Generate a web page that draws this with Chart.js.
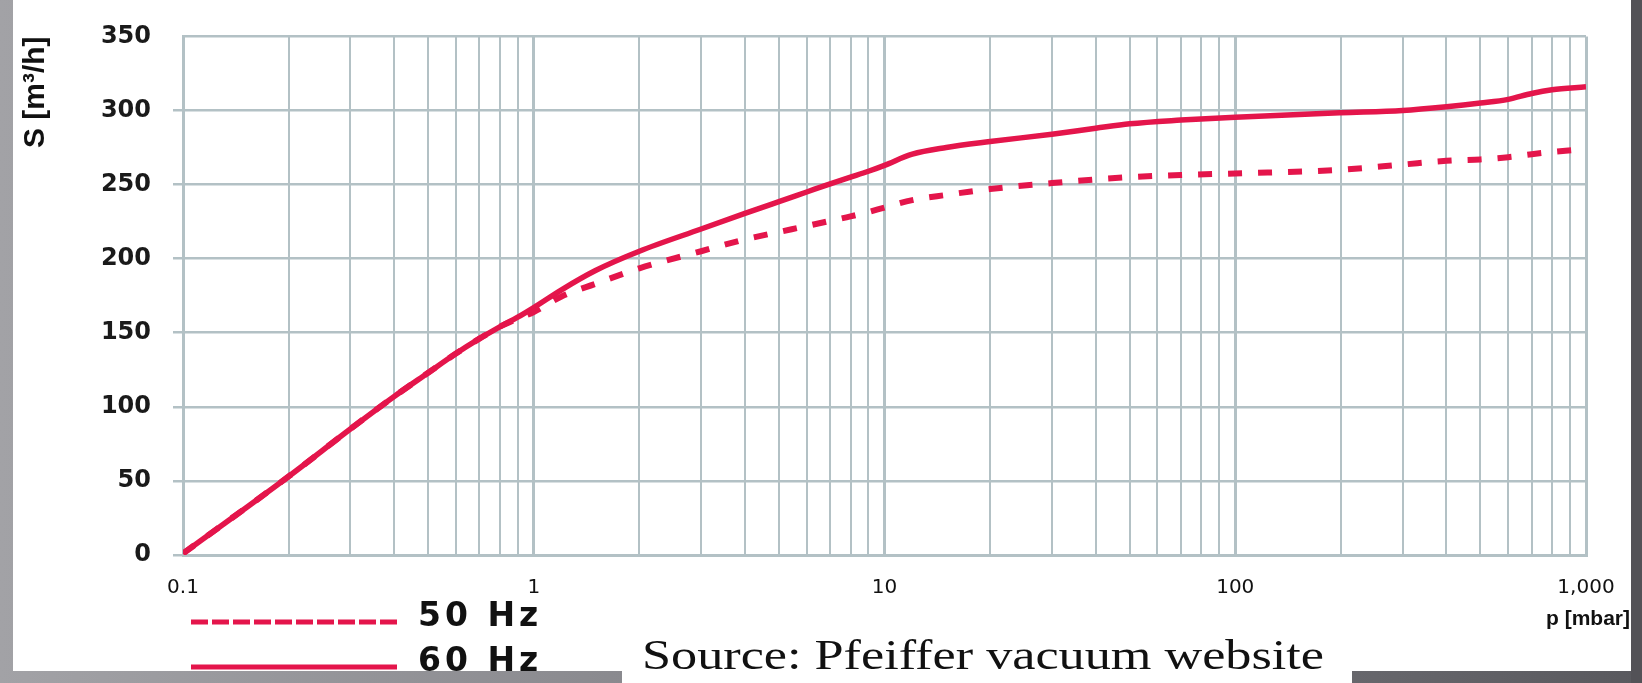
<!DOCTYPE html>
<html>
<head>
<meta charset="utf-8">
<script src="https://cdn.jsdelivr.net/npm/chart.js@4.4.1/dist/chart.umd.min.js"></script>
<style>
html,body{margin:0;padding:0;width:1642px;height:683px;overflow:hidden;}
body{position:relative;background:linear-gradient(to right,#a2a2a6 0%,#85858a 45%,#59595e 100%);}
#panel{position:absolute;left:13px;top:0;width:1618px;height:671px;background:#fff;}
#srcbox{position:absolute;left:622px;top:630px;width:730px;height:53px;background:#fff;}
#wrap{position:absolute;left:0;top:0;width:1642px;height:683px;}
#src{position:absolute;left:642px;top:633px;font-family:'Liberation Serif',serif;font-size:43px;line-height:1;color:#111;white-space:nowrap;transform-origin:0 0;}
#xtitle{position:absolute;left:1546px;top:605px;font-family:'Liberation Sans',Arial,sans-serif;font-weight:bold;font-size:21px;line-height:26px;color:#111;white-space:nowrap;}
#rstrip{position:absolute;left:1631px;top:0;width:11px;height:683px;background:#535257;}
</style>
</head>
<body>
<div id="panel"></div>
<div id="srcbox"></div>
<div id="wrap"><canvas id="c" width="1642" height="683"></canvas></div>
<div id="src">Source: Pfeiffer vacuum website</div>
<div id="xtitle">p [mbar]</div>
<div id="rstrip"></div>
<script>
// ---- data ----
const pressure = [0.1, 0.2, 0.3, 0.4, 0.5, 0.6, 0.7, 0.8, 0.9, 1, 1.2, 1.5, 2, 3, 4, 5, 6, 7, 8, 9, 10, 12, 15, 20, 30, 40, 50, 70, 100, 200, 300, 400, 500, 600, 700, 800, 1000];
const speed60Hz = [1, 53, 85, 107, 123, 136, 146, 154, 160.5, 167, 179, 192, 205, 220, 230.5, 238.5, 245, 250.5, 255, 259, 263, 270.5, 275, 279, 284, 288, 291, 293.5, 295.5, 298.5, 300, 302.5, 305, 307.5, 311.5, 314, 316];
const speed50Hz = [1, 53, 85, 107, 123, 136, 146, 154, 159.5, 164, 174.5, 183, 193.5, 205, 213, 218, 222, 225.5, 228.5, 231.5, 234.5, 239.5, 243, 247, 251, 253.5, 255, 256.5, 257.5, 260, 263.5, 266, 267, 268.5, 270.5, 272, 274];
const seriesLabels = ['50 Hz', '60 Hz'];
const xLabelValues = [0.1, 1, 10, 100, 1000];
const xLabelTexts = ['0.1', '1', '10', '100', '1,000'];
const gridDecades = [0.1, 1, 10, 100];
const gridMantissas = [1, 2, 3, 4, 5, 6, 7, 8, 9];
const yMin = 0, yMax = 350, yStep = 50;
const xMin = 0.1, xMax = 1000;

// ---- styles ----
const RED = '#e4154b';
const GRID = '#b3c1c5';
const FONT = "'DejaVu Sans', sans-serif";
const SRC_TARGET_WIDTH = 682;

const gridValues = [];
gridDecades.forEach(d => gridMantissas.forEach(m => gridValues.push(Number((d * m).toPrecision(6)))));
gridValues.push(xMax);

const isLabelled = v => xLabelValues.findIndex(t => Math.abs(t - v) / t < 1e-6);

// fit source note width
(function () {
  const el = document.getElementById('src');
  const w = el.getBoundingClientRect().width;
  if (w > 0) el.style.transform = 'scaleX(' + (SRC_TARGET_WIDTH / w) + ')';
})();

const refLegend = {
  id: 'refLegend',
  afterDraw(chart) {
    const ctx = chart.ctx;
    const x0 = chart.chartArea.left + 8;
    const x1 = x0 + 206;
    const tx = x1 + 21;
    const rows = [622, 667];
    chart.data.datasets.forEach((ds, i) => {
      ctx.save();
      ctx.strokeStyle = ds.borderColor;
      ctx.lineWidth = 5;
      ctx.lineCap = 'butt';
      ctx.setLineDash(ds.borderDash && ds.borderDash.length ? [17, 4] : []);
      ctx.beginPath();
      ctx.moveTo(x0, rows[i]);
      ctx.lineTo(x1, rows[i]);
      ctx.stroke();
      ctx.setLineDash([]);
      ctx.fillStyle = '#111';
      ctx.font = "bold 33px " + FONT;
      if ('letterSpacing' in ctx) ctx.letterSpacing = '4px';
      ctx.textBaseline = 'middle';
      ctx.textAlign = 'left';
      ctx.fillText(ds.label, tx, rows[i] - 5);
      ctx.restore();
    });
  }
};

new Chart(document.getElementById('c'), {
  type: 'line',
  data: {
    datasets: [
      {
        label: seriesLabels[0],
        data: pressure.map((p, i) => ({x: p, y: speed50Hz[i]})),
        borderColor: RED,
        borderWidth: 6,
        borderDash: [14, 16],
        pointRadius: 0,
        cubicInterpolationMode: 'monotone',
        fill: false
      },
      {
        label: seriesLabels[1],
        data: pressure.map((p, i) => ({x: p, y: speed60Hz[i]})),
        borderColor: RED,
        borderWidth: 5.5,
        pointRadius: 0,
        cubicInterpolationMode: 'monotone',
        fill: false
      }
    ]
  },
  options: {
    responsive: false,
    animation: false,
    devicePixelRatio: 1,
    layout: {padding: {left: 13, right: 56, top: 22, bottom: 0}},
    plugins: {legend: {display: false}, tooltip: {enabled: false}},
    scales: {
      x: {
        type: 'logarithmic',
        min: xMin,
        max: xMax,
        afterBuildTicks(scale) {
          scale.ticks = gridValues.map(v => ({value: v, major: isLabelled(v) >= 0}));
        },
        afterFit(scale) { scale.height = 128; },
        ticks: {
          autoSkip: false,
          maxRotation: 0,
          minRotation: 0,
          padding: 21,
          color: '#111',
          font: {family: FONT, size: 20},
          callback(value) {
            const k = isLabelled(value);
            return k >= 0 ? xLabelTexts[k] : '';
          }
        },
        grid: {
          color: GRID,
          lineWidth: c => (c.tick && c.tick.major) ? 3 : 2,
          drawTicks: false
        },
        border: {display: true, color: GRID, width: 3}
      },
      y: {
        min: yMin,
        max: yMax,
        afterFit(scale) { scale.width = 170; },
        ticks: {
          stepSize: yStep,
          padding: 22,
          color: '#1a1a1a',
          font: {family: FONT, size: 24, weight: 'bold'}
        },
        grid: {
          color: GRID,
          lineWidth: 2.5,
          tickLength: 10,
          tickColor: c => (c.tick && c.tick.value === yMax) ? 'rgba(0,0,0,0)' : GRID
        },
        border: {display: true, color: GRID, width: 3},
        title: {
          display: true,
          text: 'S [m³/h]',
          align: 'end',
          color: '#111',
          font: {family: "'Liberation Sans', Arial, sans-serif", size: 30, weight: 'bold'},
          padding: {top: 5, bottom: 0}
        }
      }
    }
  },
  plugins: [refLegend]
});
</script>
</body>
</html>
